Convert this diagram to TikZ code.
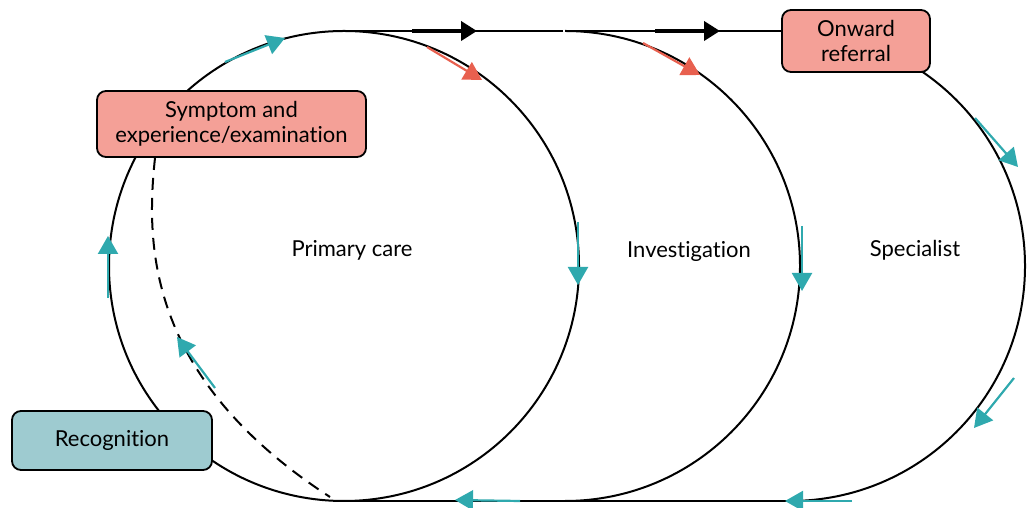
\documentclass[tikz,border=0pt]{standalone}
\usepackage{fontspec}
\setmainfont{Lato}[Ligatures=NoCommon]
\usetikzlibrary{arrows.meta}
\definecolor{tealA}{HTML}{2FA9AE}
\definecolor{redA}{HTML}{E8604F}
\definecolor{salmon}{HTML}{F4A097}
\definecolor{lteal}{HTML}{9ECBD0}
\tikzset{
  box/.style={draw=black, line width=1.8pt, rounded corners=9pt, align=center, inner sep=0pt,
    font=\fontsize{22}{25.5}\selectfont},
  lbl/.style={font=\fontsize{22}{25.5}\selectfont, inner sep=0pt},
  ring/.style={draw=black, line width=2pt},
  tealarr/.style={draw=tealA, line width=2.2pt, -{Triangle[length=18pt,width=20pt]}},
  redarr/.style={draw=redA, line width=2.2pt, -{Triangle[length=18pt,width=20pt]}},
  blackarr/.style={draw=black, line width=3.8pt, -{Triangle[length=16pt,width=19pt]}},
  dashline/.style={draw=black, line width=2pt, dash pattern=on 12pt off 8pt}
}
\begin{document}
\begin{tikzpicture}[x=1pt,y=1pt]
\useasboundingbox (0,0) rectangle (1027,508);
% centres and extreme points
\coordinate (pc) at (344,242);
\coordinate (ptop) at (344,477);
\coordinate (pbot) at (344,7);
\coordinate (itop) at (565,477);
\coordinate (ibot) at (565,7);
\coordinate (stop) at (790,477);
\coordinate (sbot) at (790,7);
% rings
\draw[ring] (pc) circle[radius=235];
\draw[ring] (itop) arc[start angle=90, end angle=-90, radius=235];
\draw[ring] (stop) arc[start angle=90, end angle=-90, radius=235];
% boxes
\node[box, fill=salmon, minimum width=269pt, minimum height=66pt] (symptom) at (231.5,384) {Symptom and\\experience/examination};
\node[box, fill=salmon, minimum width=148pt, minimum height=62pt] (onward) at (856,467) {Onward\\referral};
\node[box, fill=lteal, minimum width=200pt, minimum height=59pt] (recog) at (112,67.5) {Recognition};
% top and bottom lines
\draw[ring] (ptop) -- ([xshift=-2pt]itop);
\draw[ring] (itop) -- (itop -| onward.west);
\draw[ring] (pbot) -- (sbot);
% dashed path
\coordinate (dstart) at (155,350);
\coordinate (dend) at (330,11);
\draw[dashline] (dstart) .. controls (145,258) and (150,128) .. (dend);
% labels
\node[lbl] (pl) at (352,258) {Primary care};
\node[lbl] (il) at (689,257) {Investigation};
\node[lbl] (sl) at (915,258) {Specialist};
% black arrows
\coordinate (b1a) at (412,477); \coordinate (b1b) at (477,477);
\coordinate (b2a) at (655,477); \coordinate (b2b) at (720,477);
\draw[blackarr] (b1a) -- (b1b);
\draw[blackarr] (b2a) -- (b2b);
% red arrows
\coordinate (r1a) at (427,461); \coordinate (r1b) at (482,428);
\coordinate (r2a) at (643,465); \coordinate (r2b) at (700,433);
\draw[redarr] (r1a) -- (r1b);
\draw[redarr] (r2a) -- (r2b);
% teal arrows
\coordinate (t1a) at (225,446); \coordinate (t1b) at (285,470);
\coordinate (t2a) at (108,210); \coordinate (t2b) at (108,272);
\coordinate (t3a) at (215,120); \coordinate (t3b) at (177,171);
\coordinate (t4a) at (578,286); \coordinate (t4b) at (578,223);
\coordinate (t5a) at (802,282); \coordinate (t5b) at (802,217);
\coordinate (t6a) at (975,390); \coordinate (t6b) at (1018,341);
\coordinate (t7a) at (1014,130); \coordinate (t7b) at (974,80);
\coordinate (t8a) at (520,7); \coordinate (t8b) at (455,8);
\coordinate (t9a) at (852,7); \coordinate (t9b) at (785,7);
\foreach \i in {1,...,9} {\draw[tealarr] (t\i a) -- (t\i b);}
\end{tikzpicture}
\end{document}
